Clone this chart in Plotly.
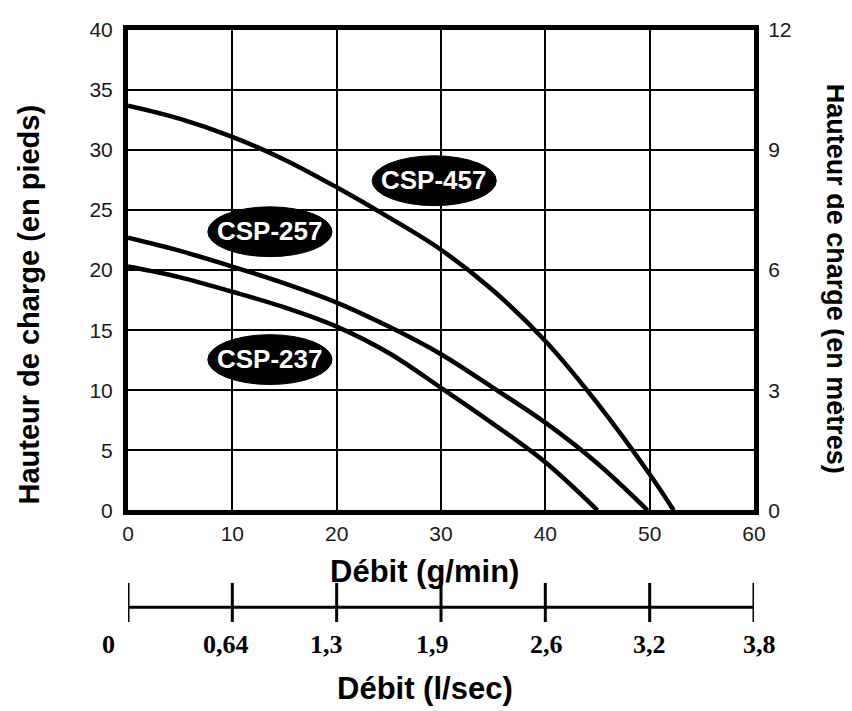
import plotly.graph_objects as go

# ---- data ----
flow_gpm_457 = [0, 5, 10, 15, 20, 25, 30, 35, 40, 45, 50, 52.3]
head_ft_457 = [33.7, 32.6, 31.1, 29.2, 26.9, 24.4, 21.7, 18.3, 14.1, 8.9, 3.0, 0.0]

flow_gpm_257 = [0, 5, 10, 15, 20, 25, 30, 35, 40, 45, 49.8]
head_ft_257 = [22.7, 21.6, 20.3, 18.9, 17.3, 15.3, 13.0, 10.2, 7.3, 3.9, 0.0]

flow_gpm_237 = [0, 5, 10, 15, 20, 25, 30, 35, 40, 45.0]
head_ft_237 = [20.3, 19.4, 18.2, 16.9, 15.3, 13.1, 10.2, 7.2, 4.0, 0.0]

model_names = ["CSP-457", "CSP-257", "CSP-237"]

x_ticks_gpm = [0, 10, 20, 30, 40, 50, 60]
y_ticks_ft = [0, 5, 10, 15, 20, 25, 30, 35, 40]
y_ticks_m = [0, 3, 6, 9, 12]
lsec_labels = ["0", "0,64", "1,3", "1,9", "2,6", "3,2", "3,8"]

# ---- styling / placement (not data) ----
label_pos = [(29.35, 27.45), (13.6, 23.2), (13.6, 12.55)]
ell_w, ell_h = 11.9, 4.15
lsec_label_shift_px = [-20, -6, -10, -9, 1, 0, 5]
STRIP_BASE = -0.25   # baseline of the l/sec scale within its strip (tick span -1..1)

SANS = "Liberation Sans, Arial, Helvetica"
SERIF = "Liberation Serif, Times New Roman, serif"

fig = go.Figure()
curves = [(flow_gpm_457, head_ft_457), (flow_gpm_257, head_ft_257), (flow_gpm_237, head_ft_237)]
for (xs, ys), name in zip(curves, model_names):
    fig.add_trace(go.Scatter(x=xs, y=ys, mode="lines", name=name,
                             line=dict(color="black", width=4.5, shape="spline", smoothing=1.0),
                             xaxis="x", yaxis="y", showlegend=False, hoverinfo="skip"))

# invisible trace to activate the right (metres) axis
fig.add_trace(go.Scatter(x=[0], y=[0], mode="markers", marker=dict(opacity=0),
                         xaxis="x", yaxis="y2", showlegend=False, hoverinfo="skip"))

# secondary flow scale (l/sec) strip
fig.add_trace(go.Scatter(x=[x_ticks_gpm[0], x_ticks_gpm[-1]], y=[STRIP_BASE, STRIP_BASE],
                         mode="lines", line=dict(color="black", width=3), xaxis="x3", yaxis="y3",
                         showlegend=False, hoverinfo="skip"))
tx, ty = [], []
for v in x_ticks_gpm:
    tx += [v, v, None]
    ty += [-1, 1, None]
fig.add_trace(go.Scatter(x=tx, y=ty, mode="lines", line=dict(color="black", width=3),
                         xaxis="x3", yaxis="y3", showlegend=False, hoverinfo="skip"))

shapes = []
annotations = []
for (cx, cy), name in zip(label_pos, model_names):
    shapes.append(dict(type="circle", xref="x", yref="y",
                       x0=cx - ell_w / 2, x1=cx + ell_w / 2,
                       y0=cy - ell_h / 2, y1=cy + ell_h / 2,
                       fillcolor="black", line=dict(color="black", width=1), layer="above"))
    annotations.append(dict(x=cx, y=cy, xref="x", yref="y", text="<b>%s</b>" % name,
                            showarrow=False, yshift=1,
                            font=dict(family=SANS, size=26, color="white")))

# l/sec labels
for v, lab, sh in zip(x_ticks_gpm, lsec_labels, lsec_label_shift_px):
    annotations.append(dict(x=v, y=-0.0381, xref="x3", yref="paper", text="<b>%s</b>" % lab,
                            showarrow=False, xshift=sh, yanchor="middle", xanchor="center",
                            font=dict(family=SERIF, size=26, color="black")))

annotations.append(dict(x=-0.158, y=0.5364, xref="paper", yref="paper",
                        yanchor="middle", xanchor="center",
                        text="<b>Hauteur de charge (en pieds)</b>", textangle=-90,
                        showarrow=False, font=dict(family=SANS, size=29, color="black")))
annotations.append(dict(x=1.131, y=0.580, xref="paper", yref="paper",
                        yanchor="middle", xanchor="center",
                        text="<b>Hauteur de charge (en mètres)</b>", textangle=90,
                        showarrow=False, font=dict(family=SANS, size=27, color="black")))
annotations.append(dict(x=0.474, y=0.0861, xref="paper", yref="paper",
                        yanchor="middle", xanchor="center",
                        text="<b>Débit (g/min)</b>", showarrow=False,
                        font=dict(family=SANS, size=31, color="black")))
annotations.append(dict(x=0.474, y=-0.1126, xref="paper", yref="paper",
                        yanchor="middle", xanchor="center",
                        text="<b>Débit (l/sec)</b>", showarrow=False,
                        font=dict(family=SANS, size=31, color="black")))

tick_font = dict(family=SANS, size=21, color="#1a1a1a")

fig.update_layout(
    width=844, height=703,
    margin=dict(l=120, r=98, t=10, b=89),
    paper_bgcolor="white", plot_bgcolor="white",
    shapes=shapes, annotations=annotations,
    xaxis=dict(domain=[0, 1], anchor="y", range=[0, 60], tickvals=x_ticks_gpm,
               showgrid=True, gridcolor="black", gridwidth=2,
               showline=True, linecolor="black", linewidth=5, mirror=True,
               ticks="outside", ticklen=1, tickcolor="rgba(0,0,0,0)",
               tickfont=tick_font, zeroline=False),
    yaxis=dict(domain=[0.1887, 1], anchor="x", range=[0, 40], tickvals=y_ticks_ft,
               showgrid=True, gridcolor="black", gridwidth=2,
               showline=True, linecolor="black", linewidth=5, mirror=True,
               ticks="outside", ticklen=6, tickcolor="rgba(0,0,0,0)",
               tickfont=tick_font, zeroline=False),
    yaxis2=dict(overlaying="y", side="right", anchor="x", range=[0, 12], tickvals=y_ticks_m,
                showgrid=False, zeroline=False, showline=False,
                ticks="outside", ticklen=9, tickcolor="rgba(0,0,0,0)",
                tickfont=tick_font),
    xaxis3=dict(domain=[0, 1], anchor="y3", range=[0, 60], tickvals=x_ticks_gpm,
                showticklabels=False, showgrid=False, zeroline=False, showline=False),
    yaxis3=dict(domain=[0, 0.0662], anchor="x3", range=[-1, 1], visible=False),
)

fig.write_html("out.html")
